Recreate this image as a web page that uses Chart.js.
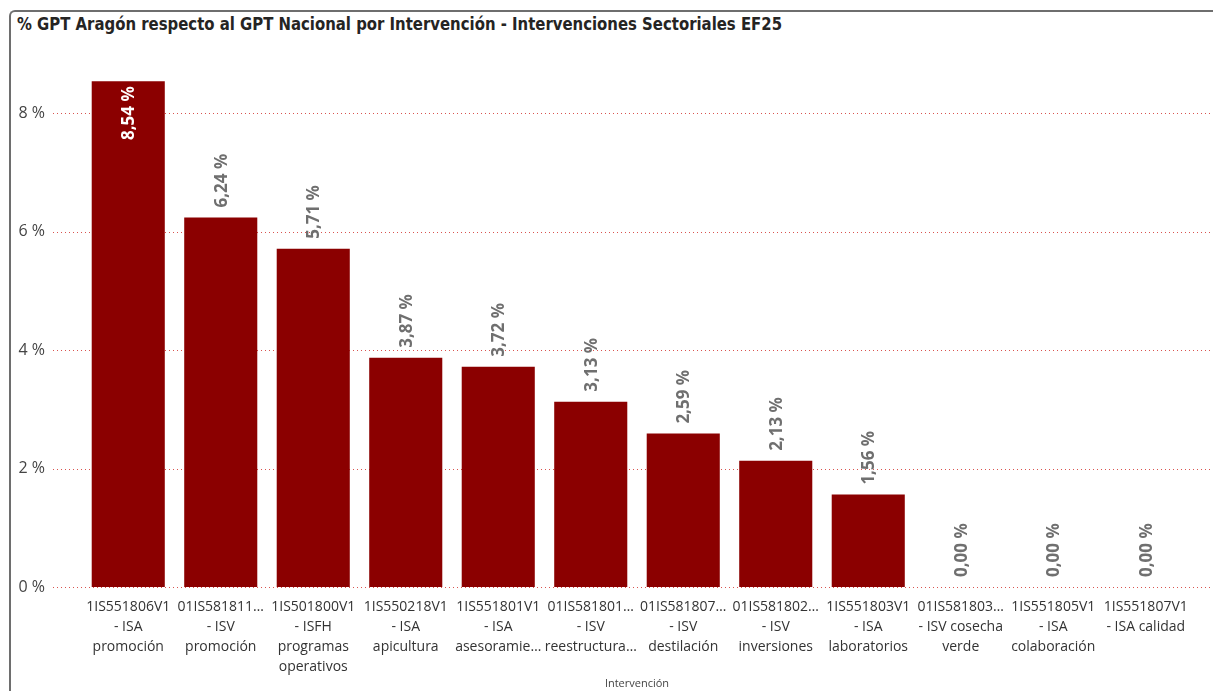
<!DOCTYPE html>
<html>
<head>
<meta charset="utf-8">
<script src="https://cdn.jsdelivr.net/npm/chart.js@4"></script>
<style>
  html, body { margin: 0; padding: 0; background: #fff; overflow: hidden; }
  #frame {
    position: absolute; left: 9px; top: 10px; width: 1240px; height: 720px;
    border-top: 2px solid #6e6e6e; border-left: 2px solid #6e6e6e;
    border-top-left-radius: 6px;
  }
  #title {
    position: absolute; left: 17px; top: 14px; white-space: nowrap;
    font-family: "DejaVu Sans Condensed", "DejaVu Sans", sans-serif;
    font-weight: bold; font-size: 17px; color: #252423;
    transform-origin: left top;
  }
  #wrap { position: absolute; left: 0; top: 0; width: 1213px; height: 691px; }
</style>
</head>
<body>
<div id="frame"></div>
<div id="title">% GPT Aragón respecto al GPT Nacional por Intervención - Intervenciones Sectoriales EF25</div>
<div id="wrap"><canvas id="gptChart"></canvas></div>
<script>
const categories = [
    ['1IS551806V1', '- ISA', 'promoción'],
    ['01IS581811…', '- ISV', 'promoción'],
    ['1IS501800V1', '- ISFH', 'programas', 'operativos'],
    ['1IS550218V1', '- ISA', 'apicultura'],
    ['1IS551801V1', '- ISA', 'asesoramie…'],
    ['01IS581801…', '- ISV', 'reestructura…'],
    ['01IS581807…', '- ISV', 'destilación'],
    ['01IS581802…', '- ISV', 'inversiones'],
    ['1IS551803V1', '- ISA', 'laboratorios'],
    ['01IS581803…', '- ISV cosecha', 'verde'],
    ['1IS551805V1', '- ISA', 'colaboración'],
    ['1IS551807V1', '- ISA calidad']
];
const pctValues = [8.54, 6.24, 5.71, 3.87, 3.72, 3.13, 2.59, 2.13, 1.56, 0, 0, 0];
const yTicks = [0, 2, 4, 6, 8];

const fmt = v => v.toFixed(2).replace('.', ',') + ' %';

// dotted gridlines, running a bit past the plot area like the original
const dottedGrid = {
    id: 'dottedGrid',
    beforeDatasetsDraw(chart) {
        const {ctx, chartArea, scales} = chart;
        ctx.save();
        ctx.strokeStyle = '#d9534f';
        ctx.lineWidth = 1;
        ctx.setLineDash([1, 3]);
        yTicks.forEach(t => {
            const y = Math.round(scales.y.getPixelForValue(t)) + 0.5;
            ctx.beginPath();
            ctx.moveTo(chartArea.left - 29, y);
            ctx.lineTo(chart.width, y);
            ctx.stroke();
        });
        ctx.restore();
    }
};

// rotated value labels
const valueLabels = {
    id: 'valueLabels',
    afterDatasetsDraw(chart) {
        const {ctx, chartArea} = chart;
        const meta = chart.getDatasetMeta(0);
        ctx.save();
        ctx.font = 'bold 17px "Open Sans", sans-serif';
        ctx.textBaseline = 'middle';
        meta.data.forEach((bar, i) => {
            const txt = fmt(pctValues[i]);
            const w = ctx.measureText(txt).width;
            let inside = bar.y - 10 - w < chartArea.top;
            ctx.save();
            ctx.translate(bar.x, inside ? bar.y + 5 : bar.y - 10);
            ctx.rotate(-Math.PI / 2);
            if (inside) {
                ctx.fillStyle = '#ffffff';
                ctx.textAlign = 'right';
            } else {
                ctx.fillStyle = '#6f6f6f';
                ctx.textAlign = 'left';
            }
            ctx.fillText(txt, 0, 1);
            ctx.restore();
        });
        ctx.restore();
    }
};

const ctx = document.getElementById('gptChart').getContext('2d');
const gptChart = new Chart(ctx, {
    type: 'bar',
    data: {
        labels: categories,
        datasets: [{
            label: '% GPT Aragón',
            data: pctValues,
            backgroundColor: '#8b0000',
            borderWidth: 0,
            barPercentage: 0.79,
            categoryPercentage: 1
        }]
    },
    options: {
        responsive: true,
        maintainAspectRatio: false,
        animation: false,
        plugins: {
            legend: { display: false },
            tooltip: { enabled: false }
        },
        layout: {
            padding: { top: 54, right: 21, bottom: 0, left: 0 }
        },
        scales: {
            x: {
                grid: { display: false, drawTicks: false },
                border: { display: false },
                ticks: {
                    color: '#333333',
                    font: { family: '"Open Sans", sans-serif', size: 14, lineHeight: 1.43 },
                    padding: 10,
                    maxRotation: 0,
                    autoSkip: false
                },
                title: {
                    display: true,
                    text: 'Intervención',
                    color: '#444444',
                    font: { family: '"Open Sans", sans-serif', size: 11 },
                    padding: { top: 0, bottom: 1 }
                },
                afterFit(scale) { scale.height = 104; }
            },
            y: {
                min: 0,
                max: 9,
                grid: { display: false, drawTicks: false },
                border: { display: false },
                ticks: {
                    color: '#444444',
                    font: { family: '"Open Sans", sans-serif', size: 16 },
                    padding: 37,
                    callback: v => v + ' %'
                },
                afterBuildTicks(scale) {
                    scale.ticks = yTicks.map(v => ({ value: v }));
                },
                afterFit(scale) { scale.width = 82; }
            }
        }
    },
    plugins: [dottedGrid, valueLabels]
});

// stretch the title to the width it has in the original
const t = document.getElementById('title');
t.style.transform = 'scaleX(' + (765 / t.getBoundingClientRect().width) + ')';
</script>
</body>
</html>
